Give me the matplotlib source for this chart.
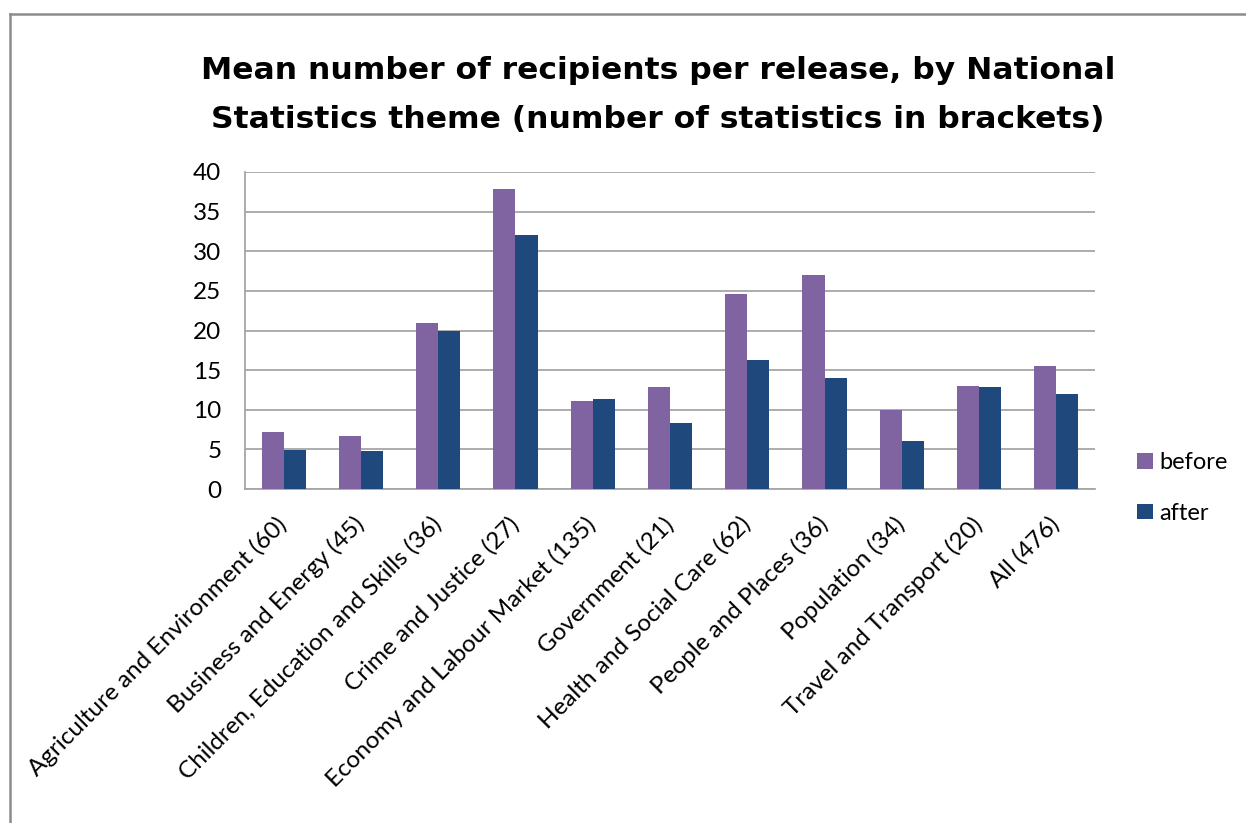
import matplotlib
matplotlib.use('Agg')
import matplotlib.pyplot as plt
from matplotlib.lines import Line2D
import numpy as np

categories = [
    "Agriculture and Environment (60)",
    "Business and Energy (45)",
    "Children, Education and Skills (36)",
    "Crime and Justice (27)",
    "Economy and Labour Market (135)",
    "Government (21)",
    "Health and Social Care (62)",
    "People and Places (36)",
    "Population (34)",
    "Travel and Transport (20)",
    "All (476)",
]
before = [7.2, 6.7, 20.9, 37.9, 11.1, 12.9, 24.6, 27.0, 10.0, 13.0, 15.5]
after = [4.9, 4.8, 19.9, 32.0, 11.3, 8.3, 16.3, 14.0, 6.0, 12.9, 12.0]
yticks = [0, 5, 10, 15, 20, 25, 30, 35, 40]
series_names = ["before", "after"]
title = "Mean number of recipients per release, by National\nStatistics theme (number of statistics in brackets)"

W, H = 1246, 823
fig = plt.figure(figsize=(W / 100, H / 100), dpi=100)
fig.patch.set_facecolor('white')

# outer chart border (left and top visible)
fig.add_artist(Line2D([10 / W, 10 / W], [0, 1 - 14 / H], color='#8C8C8C', lw=1.8, transform=fig.transFigure))
fig.add_artist(Line2D([10 / W, 1.0], [1 - 14 / H, 1 - 14 / H], color='#8C8C8C', lw=1.8, transform=fig.transFigure))

ax = fig.add_axes([245 / W, 1 - 489 / H, 850 / W, 317 / H])
x = np.arange(len(categories))
w = 1 / 3.5
ax.bar(x - w / 2, before, w, color='#8064A2', label=series_names[0], zorder=3)
ax.bar(x + w / 2, after, w, color='#1F497D', label=series_names[1], zorder=3)
ax.set_xlim(-0.5, len(categories) - 0.5)
ax.set_ylim(0, 40)
ax.set_yticks(yticks)
ax.set_yticklabels([str(v) for v in yticks], fontfamily='Lato', fontsize=17.5)
ax.yaxis.grid(True, color='#A6A6A6', lw=1.3)
ax.set_axisbelow(True)
for s in ['top', 'right']:
    ax.spines[s].set_visible(False)
for s in ['left', 'bottom']:
    ax.spines[s].set_color('#A6A6A6')
    ax.spines[s].set_linewidth(1.3)
ax.tick_params(axis='both', length=0)
ax.tick_params(axis='y', pad=17)
ax.set_xticks(x)
ax.set_xticklabels(categories, rotation=45, ha='right', va='center',
                   rotation_mode='anchor', fontfamily='Lato', fontsize=17.5)
ax.tick_params(axis='x', pad=23)

fig.text(658 / W, 1 - 95 / H, title, ha='center', va='center', fontsize=22.6,
         fontweight='bold', family='DejaVu Sans', linespacing=1.9)

leg = ax.legend(loc='center left', bbox_to_anchor=(1116 / W, 1 - 488 / H),
                bbox_transform=fig.transFigure, frameon=False,
                prop={'family': 'Lato', 'size': 17},
                handlelength=0.65, handleheight=0.65, handletextpad=0.3,
                labelspacing=1.25)

fig.savefig('out.png', dpi=100, facecolor='white')
